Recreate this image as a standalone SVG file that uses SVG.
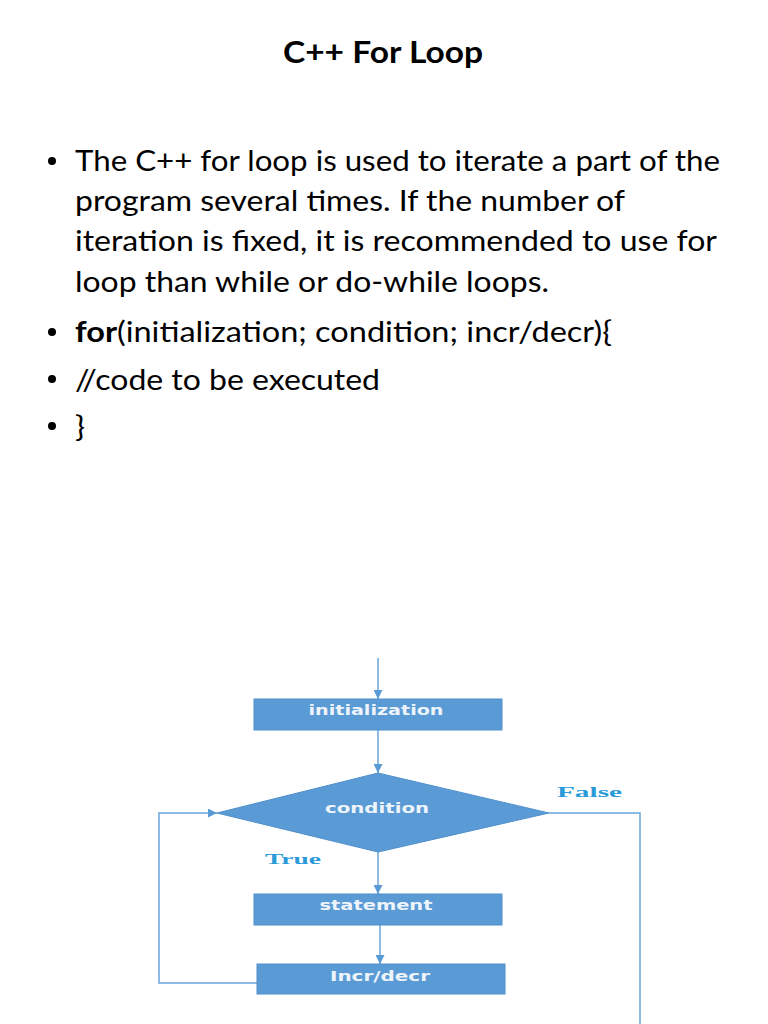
<svg xmlns="http://www.w3.org/2000/svg" width="768" height="1024" viewBox="0 0 768 1024">
<style>
.body{font-family:Lato,"Open Sans","Liberation Sans",sans-serif;font-size:29px;fill:#000}
.title{font-family:Lato,"Open Sans","Liberation Sans",sans-serif;font-size:31px;font-weight:bold;fill:#000}
.node{fill:#5b9bd5;stroke:#4f8fcb;stroke-width:1}
.ntext{font-family:"DejaVu Sans",Verdana,sans-serif;font-size:14px;font-weight:bold;fill:#eef4fb;text-anchor:middle}
.conn{fill:none;stroke:#6aa5da;stroke-width:1.5}
.lbl{font-family:"Liberation Serif","Times New Roman",serif;font-weight:bold;font-size:15px;fill:#2a9ad9}
</style>
<defs>
<marker id="ah" viewBox="0 0 10 10" refX="10" refY="5" markerWidth="9" markerHeight="9" orient="auto" markerUnits="userSpaceOnUse">
<path d="M0,0 L10,5 L0,10 z" fill="#5b9bd5"/>
</marker>
</defs>
<rect width="768" height="1024" fill="#fff"/>
<g id="title">
<text class="title" x="283" y="63" textLength="200" lengthAdjust="spacingAndGlyphs">C++ For Loop</text>
</g>
<g id="bullets">
<circle cx="52" cy="161" r="4"/>
<circle cx="52" cy="332" r="4"/>
<circle cx="52" cy="379" r="4"/>
<circle cx="52" cy="426" r="4"/>
<text class="body" x="75" y="171" textLength="645" lengthAdjust="spacingAndGlyphs">The C++ for loop is used to iterate a part of the</text>
<text class="body" x="75" y="211" textLength="550" lengthAdjust="spacingAndGlyphs">program several times. If the number of</text>
<text class="body" x="75" y="251" textLength="642" lengthAdjust="spacingAndGlyphs">iteration is fixed, it is recommended to use for</text>
<text class="body" x="75" y="292" textLength="474" lengthAdjust="spacingAndGlyphs">loop than while or do-while loops.</text>
<text class="body" x="75" y="342" textLength="537" lengthAdjust="spacingAndGlyphs"><tspan font-weight="bold">for</tspan>(initialization; condition; incr/decr){</text>
<text class="body" x="75" y="390" textLength="305" lengthAdjust="spacingAndGlyphs">//code to be executed</text>
<text class="body" x="75" y="437" textLength="10" lengthAdjust="spacingAndGlyphs">}</text>
</g>
<g id="connectors">
<line class="conn" x1="378" y1="658" x2="378" y2="699" marker-end="url(#ah)"/>
<line class="conn" x1="378" y1="730" x2="378" y2="773" marker-end="url(#ah)"/>
<line class="conn" x1="378" y1="852" x2="378" y2="894" marker-end="url(#ah)"/>
<line class="conn" x1="380" y1="925" x2="380" y2="964" marker-end="url(#ah)"/>
<polyline class="conn" points="257,983 159,983 159,813 217,813" marker-end="url(#ah)"/>
<polyline class="conn" points="549,813 640,813 640,1024"/>
<text class="lbl" x="557" y="797" textLength="65" lengthAdjust="spacingAndGlyphs">False</text>
<text class="lbl" x="265" y="864" textLength="56" lengthAdjust="spacingAndGlyphs">True</text>
</g>
<g id="init">
<rect class="node" x="254" y="699" width="248" height="31"/>
<text class="ntext" x="376" y="715" textLength="135" lengthAdjust="spacingAndGlyphs">initialization</text>
</g>
<g id="condition">
<polygon class="node" points="378,773 549,813 378,852 217,813"/>
<text class="ntext" x="377" y="813" textLength="104" lengthAdjust="spacingAndGlyphs">condition</text>
</g>
<g id="statement">
<rect class="node" x="254" y="894" width="248" height="31"/>
<text class="ntext" x="376" y="910" textLength="113" lengthAdjust="spacingAndGlyphs">statement</text>
</g>
<g id="incr">
<rect class="node" x="257" y="964" width="248" height="30"/>
<text class="ntext" x="380" y="981" textLength="100" lengthAdjust="spacingAndGlyphs">Incr/decr</text>
</g>
</svg>
